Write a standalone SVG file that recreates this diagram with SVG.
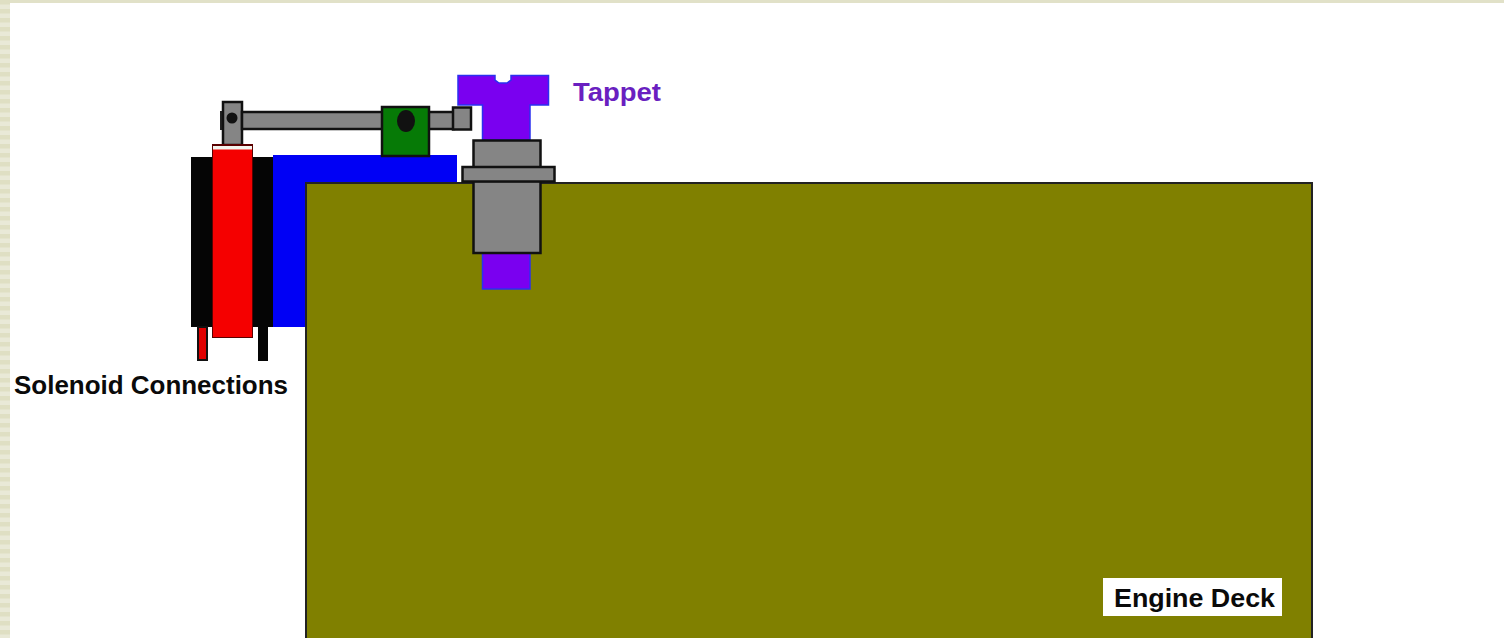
<svg xmlns="http://www.w3.org/2000/svg" width="1504" height="638" viewBox="0 0 1504 638">
<style>
.l{stroke:#111;stroke-width:2.500}
.g{fill:#858585}
.p{fill:#7a00f0;stroke:#2a30f0;stroke-width:1.500}
.t{font-family:"Liberation Sans",Arial,sans-serif;font-weight:700;font-size:25px}
</style>
<defs>
<pattern id="st" width="10" height="9" patternUnits="userSpaceOnUse"><rect width="10" height="9" fill="#e9e9d7"/><rect width="10" height="4.500" fill="#dfdfc3"/></pattern>
</defs>
<rect id="page" width="1504" height="638" fill="#fff"/>
<rect id="edge-top" width="1504" height="3" fill="#e1e1c8"/>
<rect id="edge-left" width="10" height="638" fill="url(#st)"/>
<g id="coil">
<rect x="191" y="157" width="82" height="170" fill="#050505"/>
<rect x="198" y="327" width="9" height="33" fill="#e00000" stroke="#111" stroke-width="2"/>
<rect x="258" y="327" width="10" height="34" fill="#050505"/>
</g>
<g id="bracket"><rect x="273" y="155" width="184" height="172" fill="#0000f5"/></g>
<g id="plunger">
<rect x="220" y="111" width="4" height="19" fill="#222"/>
<rect class="l g" x="223" y="102" width="19" height="43"/>
<circle cx="232" cy="118" r="5.500" fill="#111"/>
<rect x="212" y="144" width="41" height="194" fill="#5a0000"/>
<rect x="213" y="146" width="39" height="191" fill="#f50000"/>
<rect x="213" y="146" width="39" height="3.500" fill="#f4f4ee"/>
</g>
<g id="arm">
<rect class="l g" x="242" y="112" width="212" height="17"/>
<rect class="l g" x="453" y="107.500" width="18" height="22"/>
</g>
<g id="pivot">
<rect class="l" x="382" y="107" width="47" height="49" fill="#067a06"/>
<ellipse cx="406" cy="121" rx="9" ry="11" fill="#111"/>
</g>
<g id="deck"><rect x="306" y="183" width="1006" height="460" fill="#808000" stroke="#222" stroke-width="2"/></g>
<g id="tappet">
<path class="p" d="M458 75.500H495V80L499 83H507L511 80V75.500H548.500V105H530V140H482.500V105H458Z"/>
<rect class="p" x="482.500" y="250" width="47.500" height="39"/>
<text class="t" x="573" y="101" fill="#6a1fc0" textLength="88" lengthAdjust="spacingAndGlyphs">Tappet</text>
</g>
<g id="bushing">
<rect class="l g" x="473.500" y="140.500" width="67" height="28"/>
<rect class="l g" x="473.500" y="181" width="67" height="72"/>
<rect class="l g" x="462.500" y="167" width="92" height="14.500"/>
</g>
<g id="label-solenoid"><text class="t" x="14" y="394" fill="#0a0a0a" textLength="274" lengthAdjust="spacingAndGlyphs">Solenoid Connections</text></g>
<g id="label-deck">
<rect x="1103" y="578" width="179" height="38" fill="#fff"/>
<text class="t" x="1114" y="607" fill="#0a0a0a" textLength="161" lengthAdjust="spacingAndGlyphs">Engine Deck</text>
</g>
<g id="connectors"/>
</svg>
